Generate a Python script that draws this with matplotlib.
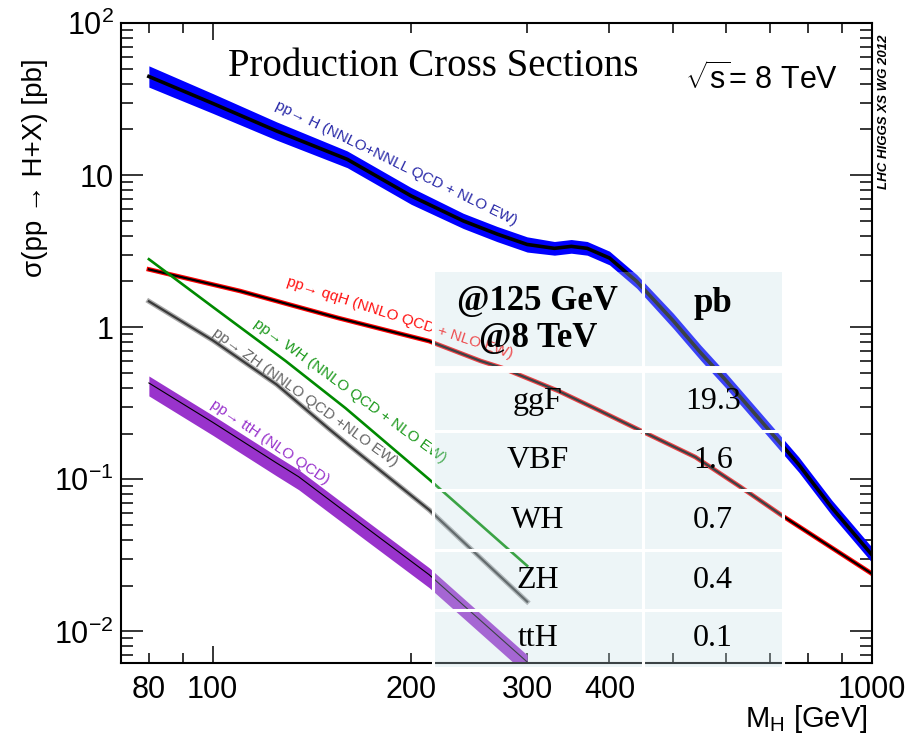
import matplotlib
matplotlib.use('Agg')
import matplotlib.pyplot as plt
from matplotlib import font_manager
from matplotlib.patches import Rectangle
from matplotlib.lines import Line2D
from matplotlib.ticker import FixedLocator, FuncFormatter, LogLocator, NullFormatter
import numpy as np

# font setup
names = {f.name for f in font_manager.fontManager.ttflist}
NARROW = 'Liberation Sans Narrow' if 'Liberation Sans Narrow' in names else 'Liberation Sans'
plt.rcParams['font.family'] = ['Liberation Sans', 'DejaVu Sans']
plt.rcParams['mathtext.fontset'] = 'custom'
plt.rcParams['mathtext.rm'] = 'Liberation Sans'
plt.rcParams['mathtext.it'] = 'Liberation Sans:italic'

# cross sections (pb)
ggf_mass = [80, 100, 125, 160, 200, 240, 270, 300, 330, 350, 370, 400, 440, 500, 550, 600, 675, 775, 870, 1000]
ggf_xs = [44.5, 29.6, 19.5, 12.7, 7.3, 5.0, 4.1, 3.5, 3.3, 3.4, 3.3, 2.85, 2.0, 1.1, 0.68, 0.45, 0.25, 0.125, 0.065, 0.032]
ggf_err = [0.07, 0.065, 0.06, 0.055, 0.055, 0.05, 0.05, 0.05, 0.045, 0.045, 0.045, 0.045, 0.045,
           0.05, 0.05, 0.05, 0.05, 0.05, 0.05, 0.05]  # half width in log10

qqh_mass = [80, 110, 155, 213, 255, 275, 335, 385, 445, 540, 630, 730, 1000]
qqh_xs = [2.40, 1.73, 1.15, 0.81, 0.60, 0.54, 0.38, 0.285, 0.21, 0.14, 0.09, 0.058, 0.024]

wh_mass = [80, 100, 129, 159, 213, 300]
wh_xs = [2.8, 1.36, 0.60, 0.294, 0.10, 0.027]

zh_mass = [80, 100, 125, 150, 161, 213, 300]
zh_xs = [1.48, 0.82, 0.42, 0.215, 0.167, 0.063, 0.0157]

tth_mass = [80, 100, 125, 135, 170, 213, 300]
tth_xs = [0.43, 0.237, 0.128, 0.104, 0.049, 0.0236, 0.0063]
tth_up = 0.046
tth_dn = 0.085

# table at 125 GeV, 8 TeV
table_proc = ['ggF', 'VBF', 'WH', 'ZH', 'ttH']
table_pb = ['19.3', '1.6', '0.7', '0.4', '0.1']

W, H = 908, 743
fig = plt.figure(figsize=(W / 100, H / 100), dpi=100)
ax = fig.add_axes([120.7 / W, 1 - 663 / H, 751 / W, 640 / H])

def fx(px):
    return px / W

def fy(py):
    return 1 - py / H

m = np.array(ggf_mass)
s = np.array(ggf_xs)
e = np.array(ggf_err)
ax.fill_between(m, s * 10**(-e), s * 10**e, color='#0000ff', lw=0, zorder=2)
ax.plot(m, s, color='black', lw=2.6, zorder=3)

ax.plot(qqh_mass, qqh_xs, color='#ff0000', lw=3.3, zorder=2)
ax.plot(qqh_mass, qqh_xs, color='black', lw=1.6, zorder=3)

ax.plot(wh_mass, wh_xs, color='#008a00', lw=1.9, zorder=3)

ax.plot(zh_mass, zh_xs, color='#aaaaaa', lw=3.6, zorder=2)
ax.plot(zh_mass, zh_xs, color='#3a3a3a', lw=1.6, zorder=3)

t = np.array(tth_xs)
ax.fill_between(tth_mass, t * 10**(-tth_dn), t * 10**tth_up, color='#9933cc', lw=0, zorder=2)
ax.plot(tth_mass, tth_xs, color='black', lw=0.8, zorder=3)

ax.set_xscale('log')
ax.set_yscale('log')
ax.set_xlim(72.5, 1000)
ax.set_ylim(0.0062, 100)

# curve labels
lab_kw = dict(fontsize=11, rotation_mode='anchor', ha='left', va='baseline', zorder=4)
ax.text(124, 27.5, 'pp\u2192 H (NNLO+NNLL QCD + NLO EW)', color='#2a2aa8', rotation=-26, **lab_kw)
ax.text(129, 1.88, 'pp\u2192 qqH (NNLO QCD + NLO EW)', color='#ff1010', rotation=-18, **lab_kw)
ax.text(115, 1.03, 'pp\u2192 WH (NNLO QCD + NLO EW)', color='#1e9a1e', rotation=-36, **lab_kw)
ax.text(99.5, 0.90, 'pp\u2192 ZH (NNLO QCD +NLO EW)', color='#666666', rotation=-36, **lab_kw)
ax.text(99, 0.30, 'pp\u2192 ttH (NLO QCD)', color='#9933cc', rotation=-34, **lab_kw)

# axes styling
for sp in ax.spines.values():
    sp.set_linewidth(1.5)
ax.xaxis.set_major_locator(FixedLocator([100, 1000]))
ax.xaxis.set_minor_locator(FixedLocator([80, 90, 200, 300, 400, 500, 600, 700, 800, 900]))
xlabels = {80: '80', 100: '100', 200: '200', 300: '300', 400: '400', 1000: '1000'}
xfmt = FuncFormatter(lambda v, p: xlabels.get(int(round(v)), ''))
ax.xaxis.set_major_formatter(xfmt)
ax.xaxis.set_minor_formatter(xfmt)
ax.yaxis.set_major_locator(LogLocator(base=10, numticks=10))
ax.yaxis.set_minor_locator(LogLocator(base=10, subs=np.arange(2, 10), numticks=20))
ax.yaxis.set_minor_formatter(NullFormatter())
ylabels = {2: r'$\mathregular{10^{2}}$', 1: '10', 0: '1', -1: r'$\mathregular{10^{-1}}$', -2: r'$\mathregular{10^{-2}}$'}
ax.yaxis.set_major_formatter(FuncFormatter(lambda v, p: ylabels.get(int(round(np.log10(v))), '')))

ax.tick_params(which='both', direction='in', top=True, right=True, width=1.1)
ax.tick_params(axis='y', which='major', length=16, pad=5)
ax.tick_params(axis='y', which='minor', length=8.5)
ax.tick_params(axis='x', which='major', length=12.5, pad=9)
ax.tick_params(axis='x', which='minor', length=7, pad=9)
for lab in ax.get_xticklabels(which='both') + ax.get_yticklabels():
    lab.set_fontfamily(NARROW)
    lab.set_fontsize(22)

ax.set_ylabel('\u03c3(pp \u2192 H+X) [pb]', fontsize=20, loc='top')
ax.yaxis.set_label_coords(-0.097, 0.945)
ax.set_xlabel(r'M$_\mathregular{H}$ [GeV]', fontsize=21, loc='right', fontfamily=NARROW)
ax.xaxis.set_label_coords(0.995, -0.062)

# annotations
fig.text(fx(228), fy(76), 'Production Cross Sections', fontfamily='Liberation Serif',
         fontsize=28, ha='left', va='baseline')
fig.text(fx(685), fy(89), r'$\sqrt{\mathrm{s}}$= 8 TeV', fontsize=22, ha='left', va='baseline')
fig.text(fx(884), fy(112), 'LHC HIGGS XS WG 2012', rotation=90, fontsize=9.5,
         fontweight='bold', fontstyle='italic', ha='center', va='center')

# table overlay
tx0, tx1, tx2 = 432.7, 642.7, 782.7
ty0, ty1 = 271.7, 668
rows = [372, 431, 490, 550, 610, 668]
fig.add_artist(Rectangle((fx(tx0), fy(ty1)), fx(tx2) - fx(tx0), fy(ty0) - fy(ty1),
                         transform=fig.transFigure, facecolor=(0.77, 0.87, 0.90),
                         alpha=0.3, lw=0, zorder=5))
white = dict(color='white', transform=fig.transFigure, zorder=6)
for xv in [tx0, tx1, tx2]:
    fig.add_artist(Line2D([fx(xv), fx(xv)], [fy(ty0), fy(ty1)], lw=2.2, **white))
fig.add_artist(Line2D([fx(tx0), fx(tx2)], [fy(369.5), fy(369.5)], lw=5, **white))
for yv in rows[1:]:
    fig.add_artist(Line2D([fx(tx0), fx(tx2)], [fy(yv), fy(yv)], lw=2.2, **white))

c1 = (tx0 + tx1) / 2
c2 = (tx1 + tx2) / 2
hkw = dict(fontfamily='Liberation Serif', fontweight='bold', fontsize=25, ha='center', va='center', zorder=7)
fig.text(fx(c1), fy(302), '@125 GeV', **hkw)
fig.text(fx(c1), fy(338), '@8 TeV', **hkw)
fig.text(fx(c2), fy(303), 'pb', **hkw)
bkw = dict(fontfamily='Liberation Serif', fontsize=23, ha='center', va='center', zorder=7)
for i, (proc, val) in enumerate(zip(table_proc, table_pb)):
    yc = (rows[i] + rows[i + 1]) / 2
    fig.text(fx(c1), fy(yc), proc, **bkw)
    fig.text(fx(c2), fy(yc), val, **bkw)

fig.savefig('out.png', dpi=100)
